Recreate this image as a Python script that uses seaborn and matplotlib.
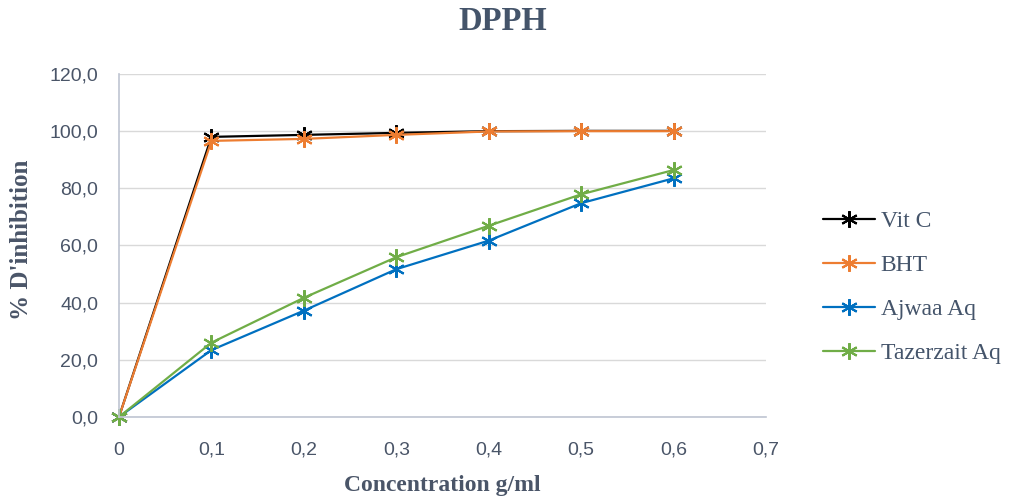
import matplotlib
matplotlib.use("Agg")
import matplotlib.pyplot as plt
import seaborn as sns
import pandas as pd

concentration = [0, 0.1, 0.2, 0.3, 0.4, 0.5, 0.6]
vit_c = [0.0, 98.0, 98.7, 99.4, 100.0, 100.1, 100.1]
bht = [0.0, 96.6, 97.3, 98.7, 99.9, 100.0, 100.0]
ajwaa = [0.0, 23.4, 37.2, 51.7, 61.7, 74.8, 83.5]
tazerzait = [0.0, 26.0, 41.7, 55.9, 66.9, 77.9, 86.4]

series_names = ["Vit C", "BHT", "Ajwaa Aq", "Tazerzait Aq"]
series_values = [vit_c, bht, ajwaa, tazerzait]
colors = ["#000000", "#ED7D31", "#0070C0", "#70AD47"]

x_ticks = [0, 0.1, 0.2, 0.3, 0.4, 0.5, 0.6, 0.7]
x_tick_labels = ["0", "0,1", "0,2", "0,3", "0,4", "0,5", "0,6", "0,7"]
y_ticks = [0, 20, 40, 60, 80, 100, 120]
y_tick_labels = ["0,0", "20,0", "40,0", "60,0", "80,0", "100,0", "120,0"]

rows = []
for name, vals in zip(series_names, series_values):
    for c, v in zip(concentration, vals):
        rows.append({"Concentration": c, "Inhibition": v, "Serie": name})
df = pd.DataFrame(rows)

sns.set_theme(style="white")
plt.rcParams["font.family"] = ["Liberation Sans", "DejaVu Sans"]

fig = plt.figure(figsize=(10.1, 4.98), dpi=100)
ax = fig.add_axes([0.1178, 0.1627, 0.6406, 0.6887])

ast = (6, 2, 0)
for name, col in zip(series_names, colors):
    sub = df[df["Serie"] == name]
    sns.lineplot(data=sub, x="Concentration", y="Inhibition", ax=ax,
                 color=col, marker=ast, markersize=12, markeredgewidth=1.5,
                 markeredgecolor=col, linewidth=1.6, label=name)

ax.set_xlim(0, 0.7)
ax.set_ylim(0, 120)
ax.set_xticks(x_ticks)
ax.set_xticklabels(x_tick_labels)
ax.set_yticks(y_ticks)
ax.set_yticklabels(y_tick_labels)
ax.tick_params(axis="x", length=0, labelsize=14, labelcolor="#4A5568", pad=18)
ax.tick_params(axis="y", length=0, labelsize=14, labelcolor="#4A5568", pad=15)
ax.grid(axis="y", color="#D9D9D9", linewidth=1)
ax.grid(axis="x", visible=False)
for s in ["top", "right"]:
    ax.spines[s].set_visible(False)
for s in ["left", "bottom"]:
    ax.spines[s].set_color("#BFC5D2")
    ax.spines[s].set_linewidth(1.2)
for line in ax.get_lines():
    line.set_clip_on(False)

serif = ["Liberation Serif", "DejaVu Serif"]
ax.set_xlabel("")
ax.set_ylabel("")
fig.text(0.438, 1 - 485 / 498, "Concentration g/ml", ha="center", va="center",
         fontsize=17, fontweight="bold", family=serif, color="#4A5568")
fig.text(22 / 1010, 1 - 240 / 498, "% D'inhibition", ha="center", va="center",
         rotation=90, fontsize=18, fontweight="bold", family=serif, color="#4A5568")
fig.text(503 / 1010, 1 - 22 / 498, "DPPH", ha="center", va="center", fontsize=23.5,
         fontweight="bold", family=serif, color="#44546A")

leg = ax.legend(loc="center left", bbox_to_anchor=(823 / 1010, 1 - 287.5 / 498),
                bbox_transform=fig.transFigure, frameon=False, borderpad=0,
                borderaxespad=0, prop={"family": serif, "size": 17},
                handlelength=2.2, labelspacing=0.95, handletextpad=0.25)
for t in leg.get_texts():
    t.set_color("#44546A")

fig.savefig("out.png", dpi=100)
